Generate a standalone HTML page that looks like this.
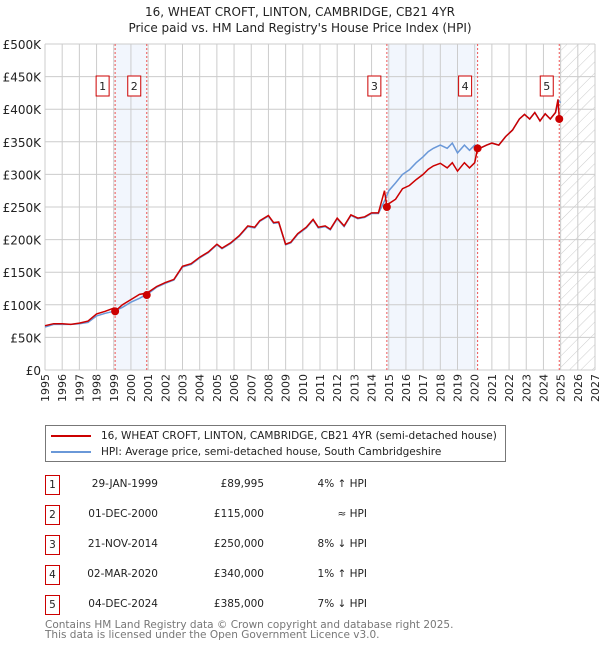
<!DOCTYPE html>
<html><head><meta charset="utf-8">
<style>
body{margin:0;background:#fff;font-family:"DejaVu Sans","Liberation Sans",sans-serif;}
#wrap{position:relative;width:600px;height:650px;overflow:hidden;}
</style></head>
<body><div id="wrap">
<svg id="svg" width="600" height="650" xmlns="http://www.w3.org/2000/svg" style="font-family:'DejaVu Sans','Liberation Sans',sans-serif">
<defs><pattern id="hatch" patternUnits="userSpaceOnUse" width="8" height="8" patternTransform="rotate(45)"><line x1="0" y1="0" x2="0" y2="8" stroke="#ccc" stroke-width="1"/></pattern></defs>
<text x="300" y="16" text-anchor="middle" font-size="12" fill="#222">16, WHEAT CROFT, LINTON, CAMBRIDGE, CB21 4YR</text>
<text x="300" y="32" text-anchor="middle" font-size="12" fill="#222">Price paid vs. HM Land Registry's House Price Index (HPI)</text>
<g id="plot"></g>
</svg>
<div style="position:absolute;left:45px;top:425px;width:459px;height:35px;border:1px solid #777;font-size:10.5px;color:#222">
 <div style="position:absolute;left:5px;top:4px;white-space:nowrap"><span style="display:inline-block;width:40px;height:2px;background:#c00;vertical-align:middle;margin-right:10px"></span>16, WHEAT CROFT, LINTON, CAMBRIDGE, CB21 4YR (semi-detached house)</div>
 <div style="position:absolute;left:5px;top:20px;white-space:nowrap"><span style="display:inline-block;width:40px;height:2px;background:#6a98d8;vertical-align:middle;margin-right:10px"></span>HPI: Average price, semi-detached house, South Cambridgeshire</div>
</div>
<div id="table"></div>
<div style="position:absolute;left:45px;top:620px;font-size:10.5px;color:#777;line-height:10px">Contains HM Land Registry data © Crown copyright and database right 2025.<br>This data is licensed under the Open Government Licence v3.0.</div>
</div>
<script>
const hpiYears=[1995,1995.5,1996,1996.5,1997,1997.5,1998,1998.5,1999,1999.5,2000,2000.5,2001,2001.5,2002,2002.5,2003,2003.5,2004,2004.5,2005,2005.3,2005.8,2006.3,2006.8,2007.2,2007.5,2008,2008.3,2008.6,2009,2009.3,2009.7,2010.2,2010.6,2010.9,2011.3,2011.6,2012,2012.4,2012.8,2013.2,2013.6,2014,2014.4,2014.8,2015,2015.4,2015.8,2016.2,2016.6,2017,2017.3,2017.6,2018,2018.4,2018.7,2019,2019.4,2019.7,2020,2020.3,2020.7,2021,2021.4,2021.8,2022.2,2022.6,2022.9,2023.2,2023.5,2023.8,2024.1,2024.4,2024.7,2024.9,2025];
const hpiValues=[66,70,70,70,71,73,83,87,90,96,104,110,117,127,133,138,158,162,172,180,192,186,194,205,220,218,228,236,225,226,192,195,208,218,230,218,220,215,232,220,237,232,234,240,240,262,275,287,300,307,318,327,335,340,345,340,348,333,345,337,345,340,345,348,345,358,368,385,392,385,395,382,393,385,395,413,410];
const priceYears=[1995,1995.5,1996,1996.5,1997,1997.5,1998,1998.5,1999,1999.08,1999.5,2000,2000.5,2000.92,2001,2001.5,2002,2002.5,2003,2003.5,2004,2004.5,2005,2005.3,2005.8,2006.3,2006.8,2007.2,2007.5,2008,2008.3,2008.6,2009,2009.3,2009.7,2010.2,2010.6,2010.9,2011.3,2011.6,2012,2012.4,2012.8,2013.2,2013.6,2014,2014.4,2014.75,2014.89,2015,2015.4,2015.8,2016.2,2016.6,2017,2017.3,2017.6,2018,2018.4,2018.7,2019,2019.4,2019.7,2020,2020.17,2020.3,2020.7,2021,2021.4,2021.8,2022.2,2022.6,2022.9,2023.2,2023.5,2023.8,2024.1,2024.4,2024.7,2024.85,2024.92];
const priceValues=[68,71,71,70,72,75,86,90,95,90,100,108,116,118,119,128,134,139,159,163,173,181,193,187,195,206,221,219,229,237,226,227,193,196,209,219,231,219,221,216,233,221,238,233,235,241,241,275,250,255,262,278,283,292,300,308,313,317,310,318,305,318,310,318,340,340,345,348,345,358,368,385,392,385,395,382,393,385,395,415,385];
const saleYears=[1999.08,2000.92,2014.89,2020.17,2024.92];
const saleValues=[89995,115000,250000,340000,385000];
const saleLabels=["1","2","3","4","5"];
const saleDates=["29-JAN-1999","01-DEC-2000","21-NOV-2014","02-MAR-2020","04-DEC-2024"];
const salePrices=["£89,995","£115,000","£250,000","£340,000","£385,000"];
const saleRel=["4% ↑ HPI","≈ HPI","8% ↓ HPI","1% ↑ HPI","7% ↓ HPI"];
const yTicks=[0,50,100,150,200,250,300,350,400,450,500];
const yTickLabels=["£0","£50K","£100K","£150K","£200K","£250K","£300K","£350K","£400K","£450K","£500K"];
const xTicks=[1995,1996,1997,1998,1999,2000,2001,2002,2003,2004,2005,2006,2007,2008,2009,2010,2011,2012,2013,2014,2015,2016,2017,2018,2019,2020,2021,2022,2023,2024,2025,2026,2027];

const L=45,R=595,T=44,B=370,X0=1995,X1=2027;
const x=v=>L+(v-X0)/(X1-X0)*(R-L);
const y=v=>B-v/500*(B-T);
const NS="http://www.w3.org/2000/svg";
const g=document.getElementById('plot');
function mk(tag,attrs,parent){const e=document.createElementNS(NS,tag);for(const k in attrs)e.setAttribute(k,attrs[k]);(parent||g).appendChild(e);return e;}
let s=mk('rect',{x:x(saleYears[0]),y:T,width:x(saleYears[1])-x(saleYears[0]),height:B-T,fill:'#f2f6fd'});


s=mk('rect',{x:x(saleYears[2]),y:T,width:x(saleYears[3])-x(saleYears[2]),height:B-T,fill:'#f2f6fd'});


s=mk('rect',{x:x(2025),y:T,width:x(2027)-x(2025),height:B-T,fill:'url(#hatch)'});


yTicks.forEach((v,i)=>{
 const l=mk('line',{x1:L,x2:R,y1:y(v),y2:y(v),stroke:'#ccc'});
 
 
 const t=mk('text',{x:L-4,y:y(v)+5,'text-anchor':'end','font-size':12,fill:'#222'});
 t.textContent=yTickLabels[i];
 
 
});
xTicks.forEach(v=>{
 const l=mk('line',{x1:x(v),x2:x(v),y1:T,y2:B,stroke:'#ccc'});
 
 
 const t=mk('text',{x:0,y:0,'text-anchor':'end','font-size':11,fill:'#222',transform:`translate(${x(v)+4},${B+4}) rotate(-90)`});
 t.textContent=v;
 
 
});
saleYears.forEach((v,i)=>{
 const l=mk('line',{x1:x(v),x2:x(v),y1:T,y2:B,stroke:'#e55','stroke-dasharray':'2,2'});
 
 
 const r=mk('rect',{x:x(v)-19,y:76,width:13,height:20,fill:'#fff',stroke:'#c00'});
 
 
 const t=mk('text',{x:x(v)-12.5,y:90,'text-anchor':'middle','font-size':11,fill:'#222'});
 t.textContent=saleLabels[i];
 
 
});
const pl=(xs,vs)=>xs.map((a,i)=>x(a).toFixed(1)+','+y(vs[i]).toFixed(1)).join(' ');
let p=mk('polyline',{points:pl(hpiYears,hpiValues),fill:'none',stroke:'#6a98d8','stroke-width':1.5});


p=mk('polyline',{points:pl(priceYears,priceValues),fill:'none',stroke:'#c00','stroke-width':1.5});


saleYears.forEach((v,i)=>{
 const c=mk('circle',{cx:x(v),cy:y(saleValues[i]/1000),r:4,fill:'#c00'});
 
 
});
const tb=document.getElementById('table');
const rowsY=[475,505,535,565,595];
saleLabels.forEach((lab,i)=>{
 const r=document.createElement('div');
 
 
 r.style.cssText=`position:absolute;left:0;top:${rowsY[i]}px;width:600px;height:20px;font-size:10.5px;color:#222;`;
 r.innerHTML=`<span style="position:absolute;left:45px;top:0;width:13px;height:18px;border:1px solid #c00;text-align:center;line-height:18px">${lab}</span><span style="position:absolute;right:442px;top:3px">${saleDates[i]}</span><span style="position:absolute;right:336px;top:3px">${salePrices[i]}</span><span style="position:absolute;right:233px;top:3px">${saleRel[i]}</span>`;
 tb.appendChild(r);
});
</script>
</body></html>
